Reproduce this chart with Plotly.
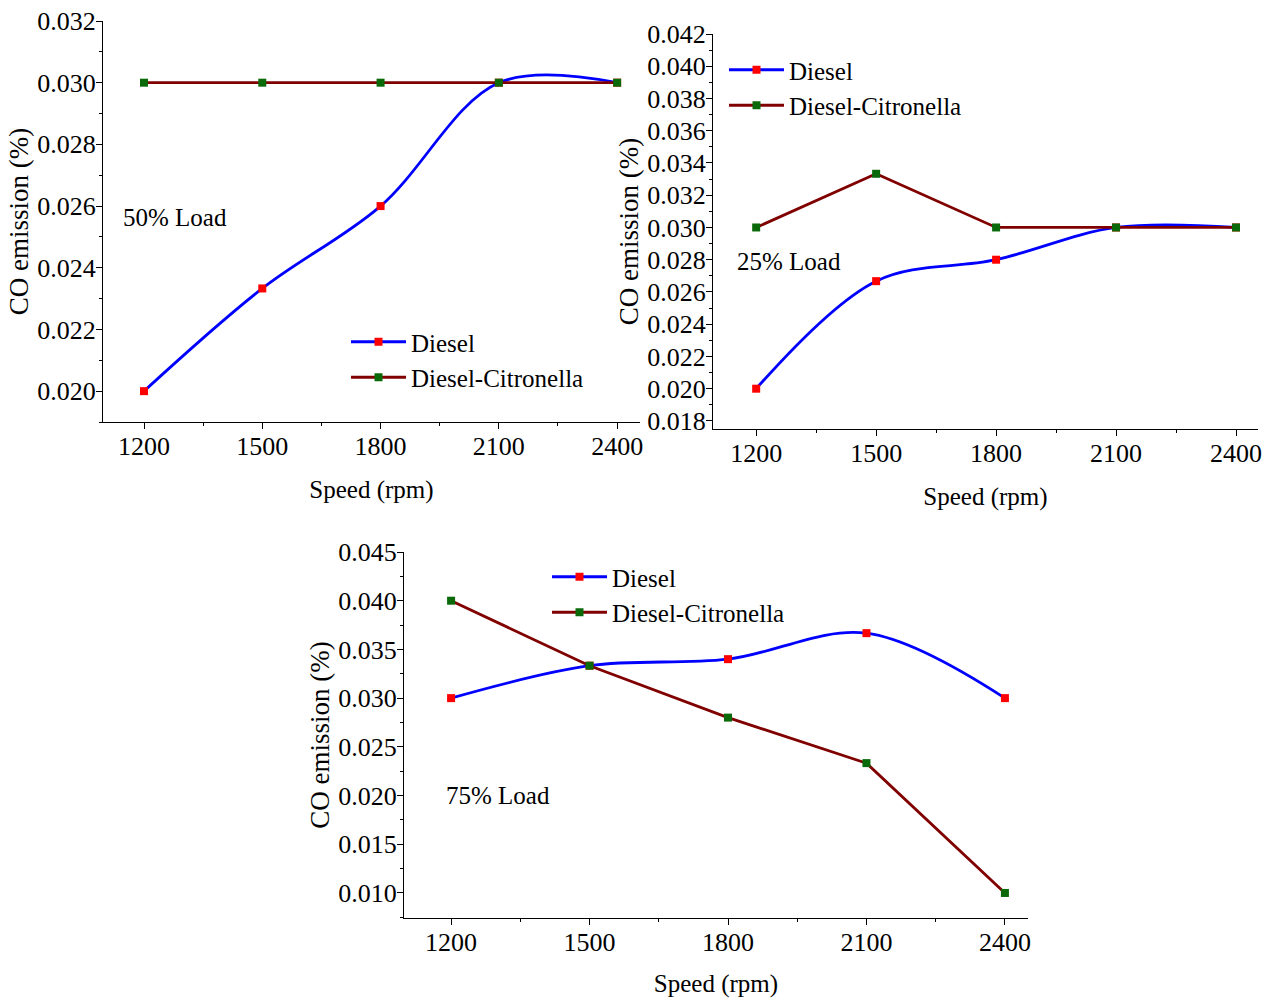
import plotly.graph_objects as go

speed = [1200, 1500, 1800, 2100, 2400]

diesel_50 = [0.020, 0.02333, 0.026, 0.030, 0.030]
citro_50 = [0.030, 0.030, 0.030, 0.030, 0.030]

diesel_25 = [0.020, 0.02667, 0.028, 0.030, 0.030]
citro_25 = [0.030, 0.03333, 0.030, 0.030, 0.030]

diesel_75 = [0.030, 0.03333, 0.034, 0.03667, 0.030]
citro_75 = [0.040, 0.03333, 0.028, 0.02333, 0.010]

FONT = "Liberation Serif, Times New Roman, serif"
BLUE = "#0000FF"
DARKRED = "#800000"
RED = "#FF0000"
GREEN = "#0A6A0A"

fig = go.Figure()

panels = [
    ("x", "y", "legend", diesel_50, citro_50),
    ("x2", "y2", "legend2", diesel_25, citro_25),
    ("x3", "y3", "legend3", diesel_75, citro_75),
]

for xa, ya, lg, d, c in panels:
    fig.add_trace(go.Scatter(
        x=speed, y=d, name="Diesel", xaxis=xa, yaxis=ya, legend=lg,
        mode="lines+markers",
        line=dict(color=BLUE, width=2.8, shape="spline", smoothing=1.0),
        marker=dict(symbol="square", size=8, color=RED, line=dict(width=0)),
    ))
    fig.add_trace(go.Scatter(
        x=speed, y=c, name="Diesel-Citronella", xaxis=xa, yaxis=ya, legend=lg,
        mode="lines+markers",
        line=dict(color=DARKRED, width=2.8),
        marker=dict(symbol="square", size=8, color=GREEN, line=dict(width=0)),
    ))

W, H = 1269, 998


def px_x(a, b):
    return [a / W, b / W]


def px_y(top, bottom):
    return [1 - bottom / H, 1 - top / H]


common_x = dict(
    tickvals=speed, ticks="outside", ticklen=6, tickwidth=1.2, tickcolor="black",
    showline=True, linecolor="black", linewidth=1.3, showgrid=False, zeroline=False,
    automargin=False, ticklabelstandoff=-5,
    tickfont=dict(family=FONT, size=26, color="black"),
    title=dict(text="Speed (rpm)", font=dict(family=FONT, size=25, color="black"), standoff=20),
    minor=dict(dtick=150, tick0=1200, ticks="outside", ticklen=3, tickcolor="black", showgrid=False),
)

common_y = dict(
    ticks="outside", ticklen=6, tickwidth=1.2, tickcolor="black",
    showline=True, linecolor="black", linewidth=1.3, showgrid=False, zeroline=False,
    automargin=False, ticklabelstandoff=-5,
    tickfont=dict(family=FONT, size=26, color="black"), tickformat=".3f",
    title=dict(text="CO emission (%)", font=dict(family=FONT, size=27, color="black"), standoff=0),
)

fig.update_layout(
    width=W, height=H,
    margin=dict(l=0, r=0, t=0, b=0),
    paper_bgcolor="white", plot_bgcolor="white",
    font=dict(family=FONT, color="black"),
    xaxis=dict(common_x, domain=px_x(103, 640), range=[1096, 2458], anchor="y"),
    yaxis=dict(common_y, domain=px_y(21, 422), range=[0.019, 0.032], tick0=0, dtick=0.002,
               minor=dict(dtick=0.001, ticks="outside", ticklen=3, tickcolor="black", showgrid=False),
               anchor="x"),
    xaxis2=dict(common_x, domain=px_x(713, 1258), range=[1092, 2455], anchor="y2"),
    yaxis2=dict(common_y, domain=px_y(34, 429), range=[0.0175, 0.042], tick0=0, dtick=0.002,
                minor=dict(dtick=0.001, ticks="outside", ticklen=3, tickcolor="black", showgrid=False),
                anchor="x2"),
    xaxis3=dict(common_x, domain=px_x(404, 1028), range=[1098, 2450], anchor="y3"),
    yaxis3=dict(common_y, domain=px_y(552, 918), range=[0.00743, 0.045], tick0=0, dtick=0.005,
                minor=dict(dtick=0.0025, ticks="outside", ticklen=3, tickcolor="black", showgrid=False),
                anchor="x3"),
    legend=dict(x=346 / W, y=1 - 319 / H, xanchor="left", yanchor="top",
                font=dict(family=FONT, size=25, color="black"), itemwidth=55,
                bgcolor="rgba(0,0,0,0)", tracegroupgap=0),
    legend2=dict(x=724 / W, y=1 - 47 / H, xanchor="left", yanchor="top",
                 font=dict(family=FONT, size=25, color="black"), itemwidth=55,
                 bgcolor="rgba(0,0,0,0)", tracegroupgap=0),
    legend3=dict(x=547 / W, y=1 - 554 / H, xanchor="left", yanchor="top",
                 font=dict(family=FONT, size=25, color="black"), itemwidth=55,
                 bgcolor="rgba(0,0,0,0)", tracegroupgap=0),
    annotations=[
        dict(text="50% Load", x=121 / W, y=1 - 217 / H, xref="paper", yref="paper",
             xanchor="left", yanchor="middle", showarrow=False,
             font=dict(family=FONT, size=25, color="black")),
        dict(text="25% Load", x=735 / W, y=1 - 262 / H, xref="paper", yref="paper",
             xanchor="left", yanchor="middle", showarrow=False,
             font=dict(family=FONT, size=25, color="black")),
        dict(text="75% Load", x=444 / W, y=1 - 795 / H, xref="paper", yref="paper",
             xanchor="left", yanchor="middle", showarrow=False,
             font=dict(family=FONT, size=25, color="black")),
    ],
)

fig.write_html("out.html")
